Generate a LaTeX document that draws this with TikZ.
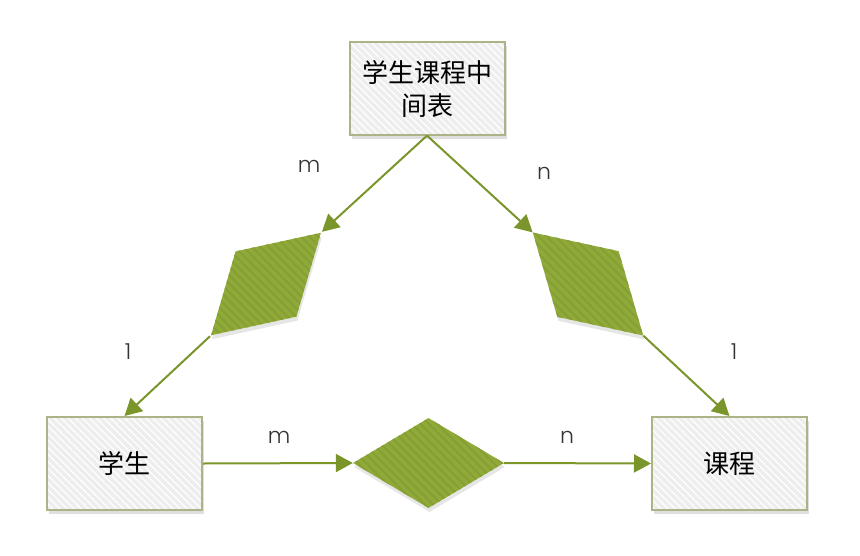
\documentclass[tikz,border=0pt]{standalone}
\usepackage{fontspec}
\newfontfamily\cjk{Noto Sans CJK SC}
\newfontfamily\lblfont{Poppins Light}
\usetikzlibrary{shapes.geometric,arrows.meta,shadows,patterns.meta}
\definecolor{linkgreen}{RGB}{122,149,42}
\definecolor{relfill}{RGB}{144,170,58}
\definecolor{relstripe}{RGB}{134,159,52}
\definecolor{boxfill}{RGB}{238,238,238}
\definecolor{boxline}{RGB}{170,180,135}

\begin{document}
\begin{tikzpicture}[x=1pt, y=-1pt,
  entity/.style={draw=boxline, line width=2pt,
    minimum width=155pt, minimum height=93pt, inner sep=0pt, align=center,
    font=\cjk\fontsize{26}{33}\selectfont,
    drop shadow={shadow xshift=2pt, shadow yshift=-4pt, opacity=0.25, fill=gray},
    preaction={fill=boxfill},
    pattern={Lines[angle=-45,distance=5pt,line width=1.2pt]}, pattern color=white},
  relation/.style={diamond, minimum width=151pt, minimum height=90pt, inner sep=0pt,
    drop shadow={shadow xshift=1pt, shadow yshift=-4pt, opacity=0.2, fill=gray},
    preaction={fill=relfill},
    pattern={Lines[angle=-45,distance=6pt,line width=2pt]}, pattern color=relstripe},
  link/.style={draw=linkgreen, line width=2pt, -{Triangle[length=17pt,width=18pt]}},
  card/.style={font=\lblfont\fontsize{22}{22}\selectfont, text=black!80}]
  \useasboundingbox (0,0) rectangle (860,555);

  % Entities
  \node[entity] (mid) at (427,88.5) {学生课程中\\间表};
  \node[entity] (stu) at (124.5,463.5) {学生};
  \node[entity] (crs) at (729.5,463.5) {课程};

  % Relations
  \node[relation, rotate=43] (rl) at (266,284) {};
  \node[relation, rotate=-43] (rr) at (588,284) {};
  \node[relation] (rb) at (428.5,463) {};

  % Connectors
  \draw[link] (mid.south) -- (rl.east);
  \draw[link] (rl.west) -- (stu.north);
  \draw[link] (mid.south) -- (rr.west);
  \draw[link] (rr.east) -- (crs.north);
  \draw[link] (stu.east) -- (rb.west);
  \draw[link] (rb.east) -- (crs.west);

  % Cardinalities
  \node[card] (cml) at (309,166) {m};
  \node[card] (cnr) at (544,173) {n};
  \node[card] (cl1) at (128,352) {1};
  \node[card] (cr1) at (734,352) {1};
  \node[card] (cmb) at (279,437) {m};
  \node[card] (cnb) at (567,437) {n};
\end{tikzpicture}
\end{document}
